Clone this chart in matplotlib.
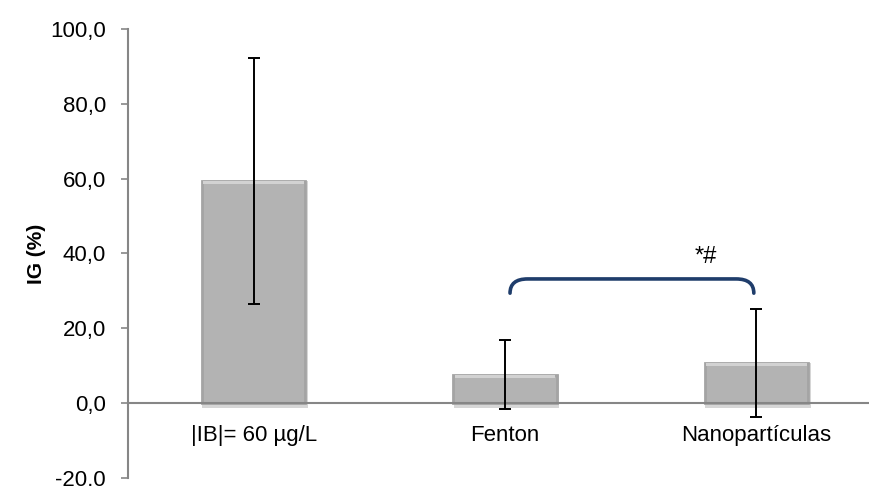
import matplotlib.pyplot as plt
from matplotlib.path import Path
from matplotlib.patches import PathPatch

plt.rcParams['font.family'] = ['Liberation Sans', 'DejaVu Sans']

# data
categories = ["|IB|= 60 µg/L", "Fenton", "Nanopartículas"]
ig_mean = [59.4, 7.6, 10.7]
ig_err = [32.9, 9.2, 14.5]
y_ticks = [-20, 0, 20, 40, 60, 80, 100]

# significance bracket between Fenton and Nanopartículas
sig_pair = (1, 2)
sig_label = "*#"
sig_low, sig_high = 29.4, 33.2

fig = plt.figure(figsize=(8.69, 4.86), dpi=100)
ax = fig.add_axes([128 / 869, 8 / 486, 754 / 869, 449 / 486])

x = list(range(len(categories)))
# soft shadow under the bars
ax.bar([i + 0.006 for i in x], [v + 1.4 for v in ig_mean], bottom=-1.4,
       width=0.42, color='#d6d6d6', zorder=1)
bars = ax.bar(x, ig_mean, width=0.41, color='#b3b3b3', edgecolor='#a4a4a4',
              linewidth=2.0, zorder=2)
# light top rim for a bevelled look
ax.bar(x, [0.9] * len(x), bottom=[v - 0.9 for v in ig_mean], width=0.40,
       color='#d2d2d2', edgecolor='none', zorder=2)

ax.errorbar(x, ig_mean, yerr=ig_err, fmt='none', ecolor='black',
            elinewidth=1.4, capsize=4.5, capthick=1.4, zorder=3)

# bracket with rounded corners
x1, x2 = sig_pair[0] + 0.02, sig_pair[1] - 0.01
dx, dy = 0.07, 3.0
verts = [(x1, sig_low), (x1, sig_high), (x1 + dx, sig_high),
         (x2 - dx, sig_high), (x2, sig_high), (x2, sig_low)]
codes = [Path.MOVETO, Path.CURVE3, Path.CURVE3,
         Path.LINETO, Path.CURVE3, Path.CURVE3]
ax.add_patch(PathPatch(Path(verts, codes), fill=False, edgecolor='#1f3d6b',
                       linewidth=2.6, capstyle='round', zorder=4))
ax.text(x2 - 0.19, sig_high + 3.0, sig_label, ha='center', va='bottom',
        fontsize=17)

ax.set_xlim(-0.5, 2.5)
ax.set_ylim(-20, 100)
ax.set_yticks(y_ticks)
ax.set_yticklabels([f"{v:.1f}".replace('.', ',') for v in y_ticks])
ax.set_xticks(x)
ax.set_xticklabels(categories)
ax.tick_params(axis='x', length=0, pad=16, labelsize=16)
ax.tick_params(axis='y', length=5, color='#868686', width=1.2, pad=11,
               labelsize=16)
ax.set_ylabel("IG (%)", fontsize=15, fontweight='bold', labelpad=3)

ax.spines['top'].set_visible(False)
ax.spines['right'].set_visible(False)
ax.spines['bottom'].set_position(('data', 0))
for s in ['left', 'bottom']:
    ax.spines[s].set_color('#868686')
    ax.spines[s].set_linewidth(1.5)

fig.savefig("out.png", dpi=100)
